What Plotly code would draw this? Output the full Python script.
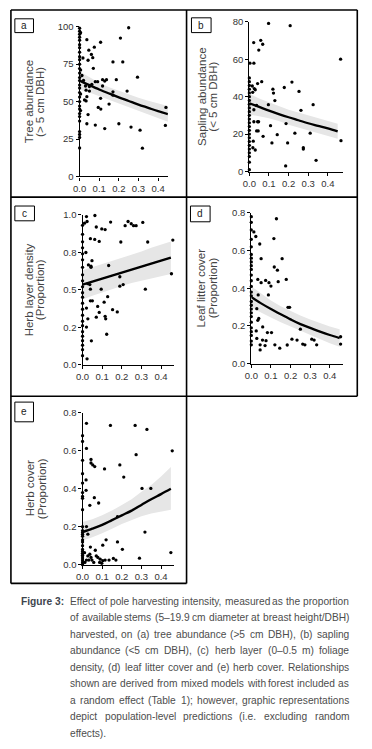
import plotly.graph_objects as go

W, H = 372, 749

# ---------------- data ----------------
fit_x = [0.0, 0.05, 0.1, 0.15, 0.2, 0.25, 0.3, 0.35, 0.4, 0.45]

# (a) Tree abundance (> 5 cm DBH)
a_x = [0, 0, 0, 0, 0, 0, 0, 0, 0, 0, 0, 0, 0, 0, 0, 0, 0, 0, 0, 0, 0, 0, 0, 0, 0, 0, 0, 0, 0,
       0.005, 0.005, 0.005, 0.005,
       0.037, 0.107, 0.075, 0.047, 0.06, 0.067, 0.017, 0.043, 0.07, 0.25, 0.208, 0.17, 0.22, 0.295,
       0.012, 0.02, 0.08, 0.092, 0.117, 0.128, 0.137, 0.187, 0.03, 0.05, 0.062, 0.033, 0.05, 0.117,
       0.17, 0.242, 0.17, 0.037, 0.025, 0.033, 0.107, 0.095, 0.108, 0.15, 0.043, 0.037, 0.08, 0.128,
       0.2, 0.262, 0.308, 0.437, 0.44, 0.32]
a_y = [99, 97, 95, 93, 91, 88, 86, 83, 80, 78, 75, 72, 69, 66, 64, 61, 59, 56, 53, 50, 47, 45, 42, 40, 37, 30, 28, 26, 19,
       96, 71, 55, 44,
       91.3, 89.6, 86.3, 84.3, 81.5, 79.3, 79.1, 77.6, 72.2, 99.3, 92.4, 76.5, 76.5, 66.3,
       67.4, 64.1, 63.3, 63.3, 64.6, 63.7, 64.6, 64.6, 60.4, 60.0, 61.5, 57.6, 57.0, 60.4,
       56.5, 57.0, 54.3, 53.3, 51.1, 50.4, 52.2, 46.1, 45.0, 48.3, 41.3, 35.2, 34.3, 32.0,
       35.2, 33.0, 30.9, 34.1, 46.1, 18.9]
a_fit = [64.0, 61.0, 58.1, 55.4, 52.8, 50.4, 48.0, 45.8, 43.6, 41.6]
a_hi = [70.0, 66.0, 62.5, 59.5, 57.0, 54.5, 52.5, 50.5, 49.0, 47.0]
a_lo = [58.0, 56.0, 54.0, 51.5, 49.0, 46.5, 44.0, 41.5, 39.0, 36.5]

# (b) Sapling abundance (< 5 cm DBH)
b_x = [0, 0, 0, 0, 0, 0, 0, 0, 0, 0, 0, 0, 0, 0, 0, 0, 0, 0, 0, 0, 0, 0, 0, 0,
       0.098, 0.208, 0.022, 0.058, 0.068, 0.048, 0.465, 0.003, 0.023, 0.015, 0.025, 0.042, 0.063,
       0.017, 0.03, 0.12, 0.123, 0.13, 0.178, 0.217, 0.253, 0.097, 0.037, 0.023, 0.263, 0.325,
       0.042, 0.023, 0.047, 0.108, 0.187, 0.045, 0.037, 0.07, 0.142, 0.232, 0.31, 0.115, 0.195,
       0.275, 0.467, 0.02, 0.018, 0.03, 0.185, 0.34, 0.275]
b_y = [50, 48, 46, 44, 42, 40, 38, 36, 34, 32, 30, 28, 26, 24, 22, 20, 18, 16, 14, 12, 10, 8, 5, 1,
       79.1, 77.9, 68.9, 70.1, 68.0, 64.9, 60.0, 57.9, 57.9, 45.7, 44.3, 47.0, 48.0,
       42.3, 43.7, 44.0, 41.9, 37.9, 44.9, 47.8, 42.8, 35.7, 35.3, 33.0, 32.7, 35.7,
       26.6, 26.6, 26.6, 24.5, 25.6, 21.7, 21.7, 18.8, 19.7, 20.5, 20.5, 15.3, 15.3,
       12.7, 16.5, 16.2, 12.7, 11.5, 3.0, 6.0, 12.0]
b_fit = [36.5, 34.5, 32.5, 30.7, 29.0, 27.4, 25.8, 24.4, 23.0, 21.4]
b_hi = [41.5, 39.0, 37.0, 35.0, 33.0, 31.5, 30.0, 28.5, 27.0, 25.5]
b_lo = [30.5, 29.5, 28.5, 27.0, 25.0, 23.5, 22.0, 20.5, 19.0, 17.5]

# (c) Herb layer density (Proportion)
c_x = [0, 0, 0, 0, 0, 0, 0, 0, 0, 0, 0, 0, 0, 0, 0, 0, 0, 0, 0, 0, 0, 0, 0,
       0.02, 0.023, 0.01, 0.063, 0.07, 0.098, 0.115, 0.143, 0.217, 0.232, 0.248, 0.26, 0.273,
       0.307, 0.04, 0.062, 0.085, 0.195, 0.332, 0.46, 0.017, 0.048, 0.03, 0.043, 0.043, 0.133,
       0.027, 0.037, 0.04, 0.095, 0.19, 0.19, 0.207, 0.32, 0.453, 0.04, 0.05, 0.11, 0.128,
       0.077, 0.085, 0.02, 0.07, 0.115, 0.118, 0.153, 0.177, 0.027, 0.02, 0.123, 0.045, 0.023]
c_y = [0.93, 0.87, 0.82, 0.78, 0.74, 0.70, 0.65, 0.60, 0.56, 0.52, 0.48, 0.45, 0.41, 0.37,
       0.33, 0.29, 0.26, 0.22, 0.19, 0.16, 0.13, 0.10, 0.06,
       0.989, 0.956, 0.945, 0.996, 0.919, 0.906, 0.902, 0.952, 0.928, 0.956, 0.941, 0.928, 0.928,
       0.95, 0.841, 0.836, 0.823, 0.819, 0.819, 0.832, 0.749, 0.694, 0.666, 0.657, 0.65, 0.662,
       0.541, 0.535, 0.504, 0.504, 0.587, 0.524, 0.535, 0.504, 0.607, 0.426, 0.426, 0.417, 0.454,
       0.389, 0.349, 0.378, 0.317, 0.323, 0.306, 0.367, 0.352, 0.306, 0.251, 0.203, 0.159, 0.039]
c_fit = [0.535, 0.555, 0.575, 0.595, 0.615, 0.635, 0.655, 0.675, 0.695, 0.715]
c_hi = [0.63, 0.65, 0.67, 0.69, 0.71, 0.73, 0.755, 0.78, 0.80, 0.822]
c_lo = [0.435, 0.46, 0.485, 0.505, 0.525, 0.545, 0.56, 0.575, 0.59, 0.605]

# (d) Leaf litter cover (Proportion)
d_x = [0, 0, 0, 0, 0, 0, 0, 0, 0, 0, 0, 0, 0, 0, 0, 0, 0, 0, 0, 0, 0, 0, 0, 0, 0, 0,
       0.128, 0.013, 0.023, 0.043, 0.115, 0.157, 0.05, 0.117, 0.133, 0.178, 0.137, 0.033, 0.05,
       0.073, 0.09, 0.1, 0.087, 0.035, 0.187, 0.195, 0.028, 0.038, 0.033, 0.058, 0.025, 0.082,
       0.103, 0.028, 0.057, 0.075, 0.045, 0.07, 0.045, 0.12, 0.145, 0.183, 0.207, 0.233, 0.25,
       0.262, 0.273, 0.308, 0.32, 0.333, 0.455, 0.455]
d_y = [0.78, 0.75, 0.71, 0.66, 0.62, 0.58, 0.56, 0.54, 0.52, 0.50, 0.47, 0.44, 0.41, 0.38,
       0.36, 0.33, 0.31, 0.29, 0.27, 0.25, 0.22, 0.19, 0.17, 0.15, 0.12, 0.10,
       0.769, 0.699, 0.675, 0.635, 0.664, 0.557, 0.557, 0.513, 0.496, 0.447, 0.435, 0.447, 0.43,
       0.442, 0.43, 0.412, 0.365, 0.365, 0.299, 0.299, 0.292, 0.24, 0.23, 0.195, 0.174, 0.165,
       0.165, 0.134, 0.125, 0.122, 0.10, 0.096, 0.073, 0.10, 0.082, 0.099, 0.13, 0.125, 0.183,
       0.104, 0.10, 0.13, 0.125, 0.10, 0.143, 0.104]
d_fit = [0.353, 0.32, 0.29, 0.262, 0.235, 0.21, 0.19, 0.17, 0.152, 0.136]
d_hi = [0.41, 0.37, 0.335, 0.305, 0.28, 0.255, 0.235, 0.215, 0.197, 0.183]
d_lo = [0.298, 0.27, 0.245, 0.22, 0.195, 0.172, 0.15, 0.13, 0.108, 0.09]

# (e) Herb cover (Proportion)
e_x = [0, 0, 0, 0, 0, 0, 0, 0, 0, 0, 0, 0, 0, 0, 0, 0, 0, 0, 0, 0, 0, 0, 0, 0, 0, 0,
       0.02, 0.142, 0.268, 0.328, 0.02, 0.457, 0.043, 0.043, 0.052, 0.062, 0.19, 0.273, 0.112,
       0.21, 0.018, 0.303, 0.348, 0.018, 0.06, 0.082, 0.037, 0.178, 0.02, 0.027, 0.318, 0.12,
       0.178, 0.103, 0.04, 0.203, 0.01, 0.065, 0.45, 0.027, 0.037, 0.043, 0.02, 0.032, 0.048,
       0.07, 0.09, 0.103, 0.115, 0.135, 0.157, 0.17, 0.29, 0.087, 0.098, 0.078, 0.057, 0.012]
e_y = [0.68, 0.65, 0.55, 0.48, 0.43, 0.38, 0.36, 0.35, 0.29, 0.20, 0.18, 0.17, 0.16, 0.15,
       0.13, 0.12, 0.10, 0.08, 0.07, 0.06, 0.05, 0.04, 0.03, 0.02, 0.01, 0.0,
       0.745, 0.734, 0.734, 0.713, 0.613, 0.60, 0.555, 0.536, 0.526, 0.517, 0.526, 0.58, 0.505,
       0.462, 0.447, 0.402, 0.402, 0.392, 0.353, 0.325, 0.313, 0.253, 0.201, 0.161, 0.172, 0.131,
       0.12, 0.103, 0.093, 0.081, 0.063, 0.076, 0.064, 0.046, 0.055, 0.038, 0.024, 0.024, 0.024,
       0.046, 0.029, 0.021, 0.024, 0.024, 0.033, 0.024, 0.034, 0.012, 0.007, 0.038, 0.012, 0.012]
e_fit = [0.172, 0.19, 0.21, 0.235, 0.26, 0.285, 0.315, 0.345, 0.372, 0.40]
e_hi = [0.225, 0.24, 0.26, 0.285, 0.315, 0.345, 0.385, 0.42, 0.465, 0.515]
e_lo = [0.128, 0.145, 0.165, 0.19, 0.215, 0.235, 0.255, 0.27, 0.28, 0.29]

x_ticks = [0, 0.1, 0.2, 0.3, 0.4]
x_ticktext = ["0.0", "0.1", "0.2", "0.3", "0.4"]

panel_letters = ["a", "b", "c", "d", "e"]
title_line1 = ["Tree abundance", "Sapling abundance", "Herb layer density", "Leaf litter cover", "Herb cover"]
title_line2 = ["(&gt; 5 cm DBH)", "(&lt; 5 cm DBH)", "(Proportion)", "(Proportion)", "(Proportion)"]
y_ticks = [[0, 25, 50, 75, 100], [0, 20, 40, 60, 80], [0, 0.25, 0.5, 0.75, 1.0],
           [0, 0.2, 0.4, 0.6, 0.8], [0, 0.2, 0.4, 0.6, 0.8]]
y_ticktext = [["0", "25", "50", "75", "100"], ["0", "20", "40", "60", "80"],
              ["0.0", "0.2", "0.5", "0.8", "1.0"], ["0.0", "0.2", "0.4", "0.6", "0.8"],
              ["0.0", "0.2", "0.4", "0.6", "0.8"]]

caption_label = "Figure 3:"
caption_lines = [
    "Effect of pole harvesting intensity, measured as the proportion",
    "of available stems (5–19.9 cm diameter at breast height/DBH)",
    "harvested, on (a) tree abundance (>5 cm DBH), (b) sapling",
    "abundance (<5 cm DBH), (c) herb layer (0–0.5 m) foliage",
    "density, (d) leaf litter cover and (e) herb cover. Relationships",
    "shown are derived from mixed models with forest included as",
    "a random effect (Table 1); however, graphic representations",
    "depict population-level predictions (i.e. excluding random",
    "effects).",
]

# ---------------- layout geometry (pixels) ----------------
areas = [
    (74, 164, 21, 173, 0.45, 100),
    (247, 342, 16, 168, 0.475, 80),
    (77, 170, 212, 364, 0.465, 1.0),
    (249, 342, 210, 363, 0.465, 0.8),
    (77, 170, 413, 567, 0.465, 0.8),
]
title_x = [(22, 33), (198, 210), (22, 33), (198, 210), (23, 35)]
letter_boxes = [(8, 13, 27, 27), (188, 12, 208, 27), (8, 203, 28, 218), (187, 203, 207, 219), (8, 402, 27, 422)]


def px(x):
    return x / W


def py(y):
    return 1 - y / H


FONT = "Liberation Sans, Arial, Helvetica, sans-serif"
data = [(a_x, a_y, a_fit, a_hi, a_lo), (b_x, b_y, b_fit, b_hi, b_lo), (c_x, c_y, c_fit, c_hi, c_lo),
        (d_x, d_y, d_fit, d_hi, d_lo), (e_x, e_y, e_fit, e_hi, e_lo)]

fig = go.Figure()
annotations = []
shapes = []
layout_axes = {}

for i, (xs, ys, fit, hi, lo) in enumerate(data):
    n = i + 1
    xa = "x" if n == 1 else f"x{n}"
    ya = "y" if n == 1 else f"y{n}"
    fig.add_trace(go.Scatter(x=fit_x + fit_x[::-1], y=hi + lo[::-1], fill="toself",
                             fillcolor="#e6e6e6", line=dict(width=0), mode="lines",
                             hoverinfo="skip", showlegend=False, xaxis=xa, yaxis=ya))
    fig.add_trace(go.Scatter(x=xs, y=ys, mode="markers",
                             marker=dict(color="black", size=3.3, symbol="circle"),
                             cliponaxis=False, showlegend=False, xaxis=xa, yaxis=ya))
    fig.add_trace(go.Scatter(x=fit_x, y=fit, mode="lines", line=dict(color="black", width=2.3, shape="spline"),
                             showlegend=False, xaxis=xa, yaxis=ya))

    x0, x1, yt, yb, xmax, ymax = areas[i]
    axis_common = dict(showline=True, linecolor="black", linewidth=1.2, ticks="outside", ticklen=3,
                       tickwidth=1, tickcolor="black", showgrid=False, zeroline=False,
                       tickfont=dict(family=FONT, size=9.5, color="#333333"))
    layout_axes["xaxis" if n == 1 else f"xaxis{n}"] = dict(
        domain=[px(x0), px(x1)], range=[0, xmax], anchor=ya, tickvals=x_ticks, ticktext=x_ticktext,
        **axis_common)
    layout_axes["yaxis" if n == 1 else f"yaxis{n}"] = dict(
        domain=[py(yb), py(yt)], range=[0, ymax], anchor=xa, tickvals=y_ticks[i], ticktext=y_ticktext[i],
        **axis_common)

    yc = (yt + yb) / 2
    t1x, t2x = title_x[i]
    for tx, txt in ((t1x, title_line1[i]), (t2x, title_line2[i])):
        annotations.append(dict(x=px(tx), y=py(yc), xref="paper", yref="paper", text=txt, textangle=-90,
                                showarrow=False, xanchor="center", yanchor="middle",
                                font=dict(family=FONT, size=11.5, color="#444444")))
    bx0, by0, bx1, by1 = letter_boxes[i]
    shapes.append(dict(type="rect", xref="paper", yref="paper", x0=px(bx0), x1=px(bx1), y0=py(by1), y1=py(by0),
                       line=dict(color="black", width=1)))
    annotations.append(dict(x=px((bx0 + bx1) / 2), y=py((by0 + by1) / 2), xref="paper", yref="paper",
                            text=panel_letters[i], showarrow=False, xanchor="center", yanchor="middle",
                            font=dict(family=FONT, size=10, color="#222222")))

# panel frames
frame_lines = [
    (4, 4, 357, 4), (4, 4, 4, 586), (357, 4, 357, 396), (183, 4, 183, 586),
    (4, 194, 357, 194), (4, 396, 357, 396), (4, 586, 183, 586),
]
for (xa0, ya0, xa1, ya1) in frame_lines:
    shapes.append(dict(type="line", xref="paper", yref="paper", x0=px(xa0), y0=py(ya0), x1=px(xa1), y1=py(ya1),
                       line=dict(color="black", width=1.6)))

# ---------------- caption (justified by word placement) ----------------
ARIAL_W = {' ': 278, 'a': 556, 'b': 556, 'c': 500, 'd': 556, 'e': 556, 'f': 278, 'g': 556, 'h': 556,
           'i': 222, 'j': 222, 'k': 500, 'l': 222, 'm': 833, 'n': 556, 'o': 556, 'p': 556, 'q': 556,
           'r': 333, 's': 500, 't': 278, 'u': 556, 'v': 500, 'w': 722, 'x': 500, 'y': 500, 'z': 500,
           'A': 667, 'B': 667, 'C': 722, 'D': 722, 'E': 667, 'F': 611, 'G': 778, 'H': 722, 'I': 278,
           'R': 722, 'T': 611, '.': 278, ',': 278, ':': 278, ';': 278, '(': 333, ')': 333, '-': 333,
           '–': 556, '/': 278, '>': 584, '<': 584}


def text_w(s, size):
    return sum(ARIAL_W.get(ch, 556) for ch in s) * size / 1000.0


CAP_FONT = "Liberation Sans, Arial, sans-serif"
CAP_LEFT, CAP_RIGHT = 63, 347
cap_size = 10.2
cap_size = min(cap_size, min((CAP_RIGHT - CAP_LEFT) / text_w(l, 1.0) for l in caption_lines[:-1]))
cap_y0, cap_dy = 604, 16.75


def esc(s):
    return s.replace("<", "&lt;").replace(">", "&gt;")


annotations.append(dict(x=px(12), y=py(cap_y0), xref="paper", yref="paper", text=f"<b>{caption_label}</b>",
                        showarrow=False, xanchor="left", yanchor="middle",
                        font=dict(family=CAP_FONT, size=10.2, color="#40454d")))
for k, line in enumerate(caption_lines):
    yline = py(cap_y0 + k * cap_dy)
    words = line.split(" ")
    if k == len(caption_lines) - 1 or len(words) == 1:
        annotations.append(dict(x=px(CAP_LEFT), y=yline, xref="paper", yref="paper", text=esc(line),
                                showarrow=False, xanchor="left", yanchor="middle", borderpad=0,
                                font=dict(family=CAP_FONT, size=cap_size, color="#4d4d4d")))
        continue
    widths = [text_w(w, cap_size) for w in words]
    gap = (CAP_RIGHT - CAP_LEFT - sum(widths)) / (len(words) - 1)
    xpos = CAP_LEFT
    for w, ww in zip(words, widths):
        annotations.append(dict(x=px(xpos), y=yline, xref="paper", yref="paper", text=esc(w),
                                showarrow=False, xanchor="left", yanchor="middle", borderpad=0,
                                font=dict(family=CAP_FONT, size=cap_size, color="#4d4d4d")))
        xpos += ww + gap

fig.update_layout(width=W, height=H, margin=dict(l=0, r=0, t=0, b=0), paper_bgcolor="white",
                  plot_bgcolor="white", showlegend=False, annotations=annotations, shapes=shapes,
                  **layout_axes)

fig.write_html("out.html", config={"displayModeBar": False},
               post_script="document.body.style.margin='0';document.body.style.overflow='hidden';")
